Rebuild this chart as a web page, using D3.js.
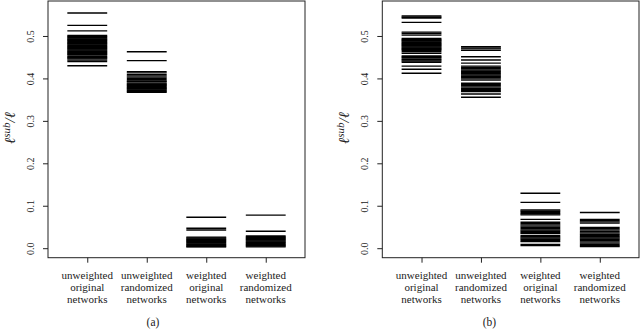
<!DOCTYPE html>
<html>
<head>
<meta charset="utf-8">
<script src="https://cdn.jsdelivr.net/npm/d3@7"></script>
<style>
  body { margin: 0; background: #fff; }
</style>
</head>
<body>
<div id="graph"></div>
<script>
var serif = "'Liberation Serif', 'Times New Roman', 'DejaVu Serif', serif";

// group names (x axis)
var groups = [
    ["unweighted", "original", "networks"],
    ["unweighted", "randomized", "networks"],
    ["weighted", "original", "networks"],
    ["weighted", "randomized", "networks"]
];
var yTicks = [0.0, 0.1, 0.2, 0.3, 0.4, 0.5];

// panel (a) values
var uoA = [0.554, 0.525, 0.512, 0.501, 0.499, 0.497, 0.495, 0.493, 0.491, 0.489, 0.487, 0.485, 0.483, 0.481,
    0.479, 0.477, 0.475, 0.473, 0.471, 0.469, 0.467, 0.465, 0.463, 0.461, 0.459, 0.457, 0.455, 0.452,
    0.450, 0.448, 0.446, 0.443, 0.440, 0.430];
var urA = [0.463, 0.442, 0.416, 0.413, 0.409, 0.406, 0.403, 0.400, 0.397, 0.394, 0.392, 0.389, 0.387,
    0.385, 0.383, 0.381, 0.379, 0.377, 0.375, 0.373, 0.371, 0.369, 0.367];
var woA = [0.073, 0.047, 0.043, 0.026, 0.024, 0.022, 0.020, 0.018, 0.016, 0.014, 0.012, 0.010, 0.008,
    0.006, 0.004, 0.003];
var wrA = [0.078, 0.040, 0.029, 0.027, 0.025, 0.023, 0.021, 0.019, 0.017, 0.015, 0.013, 0.011, 0.009,
    0.007, 0.005, 0.003];

// panel (b) values
var uoB = [0.547, 0.544, 0.542, 0.532, 0.509, 0.506, 0.502, 0.494, 0.492, 0.490, 0.488, 0.486, 0.484,
    0.482, 0.480, 0.478, 0.476, 0.474, 0.472, 0.470, 0.468, 0.466, 0.463, 0.459, 0.453, 0.451, 0.449,
    0.446, 0.444, 0.441, 0.438, 0.429, 0.4215, 0.412];
var urB = [0.475, 0.472, 0.4695, 0.466, 0.451, 0.4435, 0.436, 0.429, 0.426, 0.423, 0.420, 0.417, 0.414,
    0.411, 0.408, 0.405, 0.402, 0.399, 0.396, 0.3886, 0.386, 0.383, 0.380, 0.377, 0.374, 0.371, 0.369,
    0.3634, 0.3556];
var woB = [0.1295, 0.108, 0.090, 0.087, 0.084, 0.081, 0.0785, 0.068, 0.061, 0.058, 0.055, 0.052, 0.049,
    0.046, 0.043, 0.040, 0.037, 0.035, 0.030, 0.027, 0.024, 0.021, 0.018, 0.0155, 0.009, 0.006];
var wrB = [0.084, 0.068, 0.065, 0.062, 0.059, 0.049, 0.046, 0.043, 0.039, 0.036, 0.033, 0.030, 0.027,
    0.024, 0.021, 0.018, 0.015, 0.012, 0.009, 0.006, 0.004];

var width = 640, height = 329;

var svg = d3.select("#graph").append("svg")
    .attr("width", width)
    .attr("height", height)
    .attr("font-family", serif);

function drawPanel(left, right, series, caption, capX) {
    var top = 1, bottom = 257.7;

    // R style: xlim 0.5..4.5 and ylim 0..0.56, each padded by 4%
    var x = d3.scaleLinear().domain([0.34, 4.66]).range([left, right]);
    var y = d3.scaleLinear().domain([-0.0224, 0.5824]).range([bottom, top]);

    var g = svg.append("g");

    series.forEach(function (vals, i) {
        g.selectAll(null)
            .data(vals)
            .enter().append("line")
            .attr("x1", x(i + 1 - 0.335))
            .attr("x2", x(i + 1 + 0.335))
            .attr("y1", function (d) { return y(d); })
            .attr("y2", function (d) { return y(d); })
            .attr("stroke", "#000")
            .attr("stroke-width", 1.4);
    });

    // box
    g.append("rect")
        .attr("x", left)
        .attr("y", top)
        .attr("width", right - left)
        .attr("height", bottom - top)
        .attr("fill", "none")
        .attr("stroke", "#222")
        .attr("stroke-width", 1);

    // y axis
    var yAxis = d3.axisLeft(y).tickValues(yTicks).tickSize(5).tickFormat(d3.format(".1f"));
    var ya = g.append("g")
        .attr("transform", "translate(" + left + ",0)")
        .call(yAxis)
        .attr("font-family", serif);
    ya.select(".domain").remove();
    ya.selectAll("line").attr("stroke", "#222");
    ya.selectAll("text")
        .attr("transform", "rotate(-90)")
        .attr("x", 0)
        .attr("y", -14)
        .attr("dy", 0)
        .attr("text-anchor", "middle")
        .style("font-size", "10px")
        .style("font-family", serif)
        .attr("fill", "#222");

    // x axis, labels are three lines so drawn by hand
    var xAxis = d3.axisBottom(x).tickValues([1, 2, 3, 4]).tickSize(5).tickFormat("");
    var xa = g.append("g")
        .attr("transform", "translate(0," + bottom + ")")
        .call(xAxis);
    xa.select(".domain").remove();
    xa.selectAll("line").attr("stroke", "#222");

    groups.forEach(function (lines, i) {
        lines.forEach(function (s, j) {
            g.append("text")
                .attr("x", x(i + 1))
                .attr("y", 278.5 + j * 12.3)
                .attr("text-anchor", "middle")
                .attr("fill", "#222")
                .style("font-family", serif)
                .style("font-size", "11px")
                .text(s);
        });
    });

    // y label  l^sub / l
    var lab = g.append("text")
        .attr("transform", "translate(" + (left - 33) + ",128) rotate(-90)")
        .attr("text-anchor", "middle")
        .attr("fill", "#222")
        .style("font-family", serif)
        .style("font-size", "15px")
        .style("font-style", "italic");
    lab.append("tspan").text("ℓ");
    lab.append("tspan").attr("dy", -5).style("font-size", "11px").text("sub");
    lab.append("tspan").attr("dy", 5).text("/ℓ");

    g.append("text")
        .attr("x", capX)
        .attr("y", 326)
        .attr("text-anchor", "middle")
        .attr("fill", "#222")
        .style("font-family", serif)
        .style("font-size", "11.5px")
        .text(caption);
}

drawPanel(48, 305, [uoA, urA, woA, wrA], "(a)", 153);
drawPanel(382.3, 639, [uoB, urB, woB, wrB], "(b)", 489.5);
</script>
</body>
</html>
